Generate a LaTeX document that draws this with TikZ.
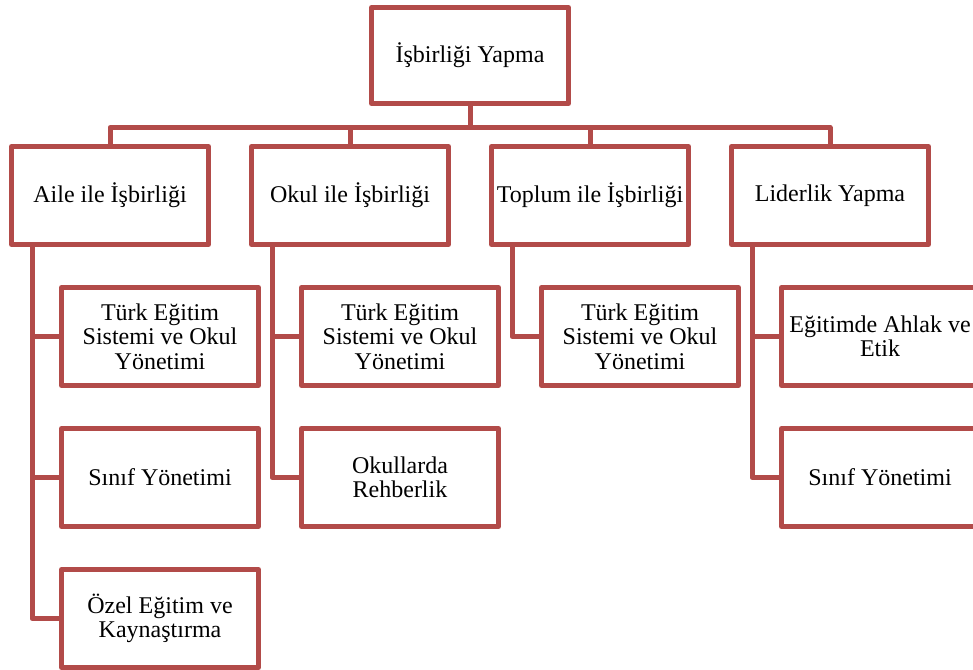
\documentclass[tikz,border=0pt]{standalone}
\usepackage{fontspec}
\setmainfont{Liberation Serif}
\usepackage{tikz}
\usetikzlibrary{arrows}

\definecolor{boxred}{RGB}{178,75,73}

\begin{document}
\begin{tikzpicture}[x=1pt,y=-1pt,-,node distance=141pt,
				line width=5pt,line join=round,
				main node/.style={rectangle,draw=boxred,fill=white,align=center,
					font=\fontsize{24}{24.5}\selectfont,inner sep=2pt,
					minimum width=197pt,minimum height=98pt},
				top node/.style={main node,minimum height=96pt},
				link/.style={draw=boxred,line width=5pt}]
				
				\useasboundingbox (0,0) rectangle (973,669);
				
				\node[top node] (root) at (470,55.5) {İşbirliği Yapma};
				
				\node[main node] (aile) at (110,195.5) {Aile ile İşbirliği};
				\node[main node] (okul) [right of=aile,node distance=240pt] {Okul ile İşbirliği};
				\node[main node] (toplum) [right of=okul,node distance=240pt] {Toplum ile İşbirliği};
				\node[main node] (lider) [right of=toplum,node distance=240pt] {Liderlik Yapma};
				
				\node[main node] (aileA) [below of=aile,xshift=50pt] {Türk Eğitim\\Sistemi ve Okul\\Yönetimi};
				\node[main node] (aileB) [below of=aileA] {Sınıf Yönetimi};
				\node[main node] (aileC) [below of=aileB] {Özel Eğitim ve\\Kaynaştırma};
				
				\node[main node] (okulA) [below of=okul,xshift=50pt] {Türk Eğitim\\Sistemi ve Okul\\Yönetimi};
				\node[main node] (okulB) [below of=okulA] {Okullarda\\Rehberlik};
				
				\node[main node] (toplumA) [below of=toplum,xshift=50pt] {Türk Eğitim\\Sistemi ve Okul\\Yönetimi};
				
				\node[main node] (liderA) [below of=lider,xshift=50pt] {Eğitimde Ahlak ve\\Etik};
				\node[main node] (liderB) [below of=liderA] {Sınıf Yönetimi};
				
				\coordinate (aileBar) at ([xshift=-78pt]aile.south);
				\coordinate (okulBar) at ([xshift=-78pt]okul.south);
				\coordinate (toplumBar) at ([xshift=-78pt]toplum.south);
				\coordinate (liderBar) at ([xshift=-78pt]lider.south);
				
				\path[link]
				(root.south) -- ++(0,21.5) -| (aile.north)
				(root.south) -- ++(0,21.5) -| (okul.north)
				(root.south) -- ++(0,21.5) -| (toplum.north)
				(root.south) -- ++(0,21.5) -| (lider.north)
				(aileBar) |- (aileA.west)
				(aileBar) |- (aileB.west)
				(aileBar) |- (aileC.west)
				(okulBar) |- (okulA.west)
				(okulBar) |- (okulB.west)
				(toplumBar) |- (toplumA.west)
				(liderBar) |- (liderA.west)
				(liderBar) |- (liderB.west);
			\end{tikzpicture}
\end{document}
